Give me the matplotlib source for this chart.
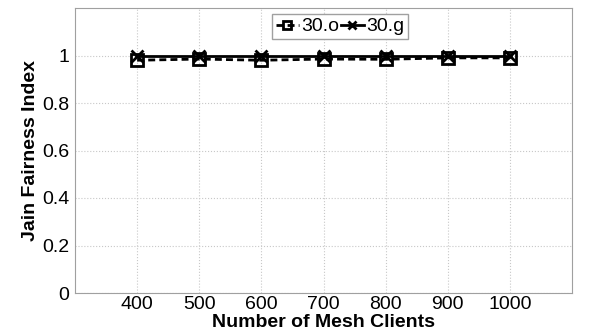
import matplotlib
matplotlib.use('Agg')
import matplotlib.pyplot as plt

clients = [400, 500, 600, 700, 800, 900, 1000]
fair_o = [0.980, 0.985, 0.980, 0.985, 0.984, 0.990, 0.990]
fair_g = [0.999, 0.999, 0.999, 0.999, 0.999, 0.999, 0.999]
y_ticks = [0, 0.2, 0.4, 0.6, 0.8, 1]

plt.rcParams['font.family'] = ['Liberation Sans', 'DejaVu Sans']

fig = plt.figure(figsize=(6.16, 3.36), dpi=100)
ax = fig.add_axes([75 / 616, 43 / 336, 497 / 616, 285 / 336])

ax.plot(clients, fair_o, '--', color='black', linewidth=2, marker='s', markersize=8,
        markerfacecolor='none', markeredgewidth=2, dashes=(2.5, 1.5), label='30.o')
ax.plot(clients, fair_g, '-', color='black', linewidth=2, marker='x', markersize=8,
        markeredgewidth=2, label='30.g')

ax.set_xlim(300, 1100)
ax.set_ylim(0, 1.2)
ax.set_xticks(clients)
ax.set_yticks(y_ticks)
ax.set_yticklabels(['0', '0.2', '0.4', '0.6', '0.8', '1'])
ax.tick_params(axis='x', labelsize=14, length=0, pad=2)
ax.tick_params(axis='y', labelsize=14, length=0, pad=4)
ax.grid(True, linestyle=':', color='#c8c8c8', linewidth=0.8)
for s in ax.spines.values():
    s.set_color('#a0a0a0')

ax.set_xlabel('Number of Mesh Clients', fontsize=14, fontweight='bold', labelpad=1)
ax.set_ylabel('Jain Fairness Index', fontsize=14, fontweight='bold', labelpad=2)

ax.legend(loc='upper center', bbox_to_anchor=(0.533, 1.0), ncol=2, fontsize=14,
          frameon=True, fancybox=False, framealpha=1, edgecolor='#a0a0a0',
          handlelength=1.2, handletextpad=0.1, columnspacing=0.1, markerscale=0.75,
          borderpad=0.2, borderaxespad=0.3)

fig.savefig('out.png', dpi=100)
